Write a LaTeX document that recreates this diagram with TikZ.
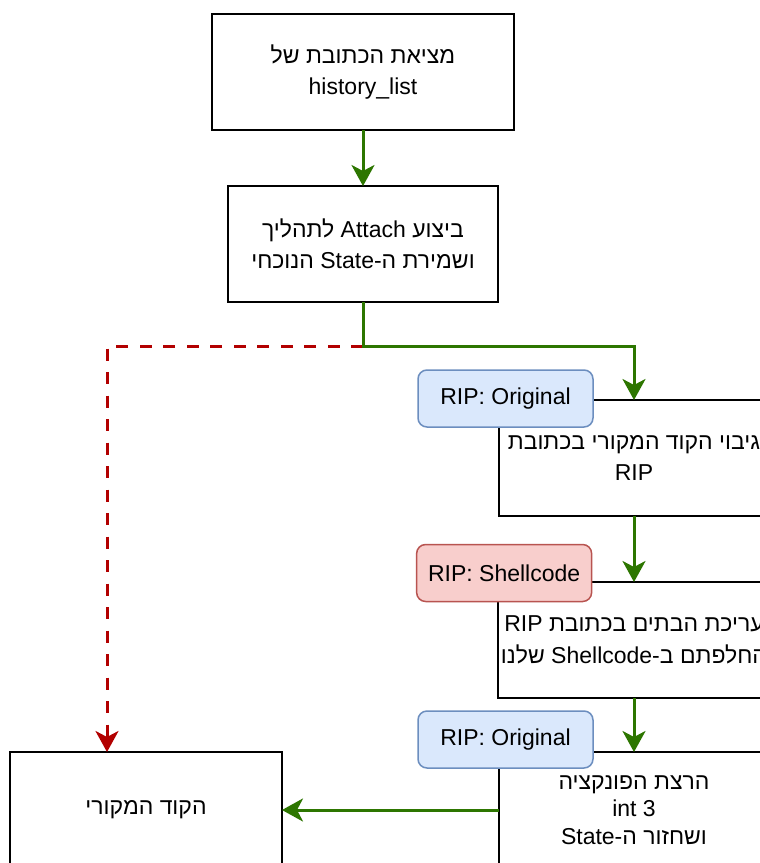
\documentclass[tikz,border=0pt]{standalone}
\usepackage{fontspec}
\setmainfont{Liberation Sans}
\newfontfamily\heb[Script=Hebrew]{Liberation Sans}
\TeXXeTstate=1
\usetikzlibrary{arrows.meta,positioning}
\definecolor{flowgreen}{HTML}{2D7600}
\definecolor{failred}{HTML}{B20000}
\definecolor{tagblue}{HTML}{DAE8FC}
\definecolor{tagblueline}{HTML}{6C8EBF}
\definecolor{tagred}{HTML}{F8CECC}
\definecolor{tagredline}{HTML}{B85450}

\begin{document}
\begin{tikzpicture}[x=1pt,y=-1pt,
    font=\fontsize{23}{31.5}\selectfont,
    box/.style={draw=black,line width=1.8pt,fill=white,minimum width=270pt,minimum height=116pt,align=center,outer sep=0pt},
    tag/.style={rounded corners=9pt,line width=1.5pt,minimum width=175pt,minimum height=57pt,inner sep=0pt},
    tag_ok/.style={tag,draw=tagblueline,fill=tagblue},
    tag_bad/.style={tag,draw=tagredline,fill=tagred},
    flow/.style={draw=flowgreen,line width=3pt,-{Stealth[length=21pt,width=23pt,inset=6pt]}},
    fail/.style={draw=failred,line width=3pt,dash pattern=on 12pt off 11.5pt,-{Stealth[length=21pt,width=23pt,inset=6pt]}}]
  \useasboundingbox (0,0) rectangle (760,863);
  \clip (0,0) rectangle (760,863);
  \fill[white] (0,0) rectangle (760,863);

  \node[box,minimum width=302pt] (find_addr) at (363,72)
    {\beginR{\heb מציאת הכתובת של}\endR\\history\_list};
  \node[box] (attach) [below=56pt of find_addr]
    {\beginR{\heb ביצוע} Attach {\heb לתהליך}\endR\\\beginR{\heb ושמירת ה-}State {\heb הנוכחי}\endR};
  \node[box] (backup) at (634,458)
    {\beginR{\heb גיבוי הקוד המקורי בכתובת}\endR\\RIP};
  \node[box] (patch) [below=66pt of backup]
    {\beginR{\heb עריכת הבתים בכתובת} RIP\endR\\\beginR{\heb החלפתם ב-}Shellcode {\heb שלנו}\endR};
  \node[box,font=\fontsize{23}{27.5}\selectfont] (run) [below=54pt of patch]
    {\beginR{\heb הרצת הפונקציה}\endR\\int 3\\\beginR{\heb ושחזור ה-}State\endR};
  \node[box,minimum width=272pt] (orig) [left=217pt of run]
    {\beginR{\heb הקוד המקורי}\endR};

  % RIP state tags
  \node[tag_ok] (tag_1) at (backup.north west) [xshift=6.5pt,yshift=1.5pt] {RIP: Original};
  \node[tag_bad] (tag_2) at (patch.north west) [xshift=6.5pt,yshift=9pt] {RIP: Shellcode};
  \node[tag_ok] (tag_3) at (run.north west) [xshift=6.5pt,yshift=12.5pt] {RIP: Original};

  \coordinate (split) at (363,346);
  \coordinate (bend) at (107,346);

  \draw[fail] (split) -- (bend) -- (bend |- orig.north);
  \draw[flow] (find_addr) -- (attach);
  \draw[flow] (attach) -- (split) -| (backup.north);
  \draw[flow] (backup) -- (patch);
  \draw[flow] (patch) -- (run);
  \draw[flow] (run.west) -- (orig.east);
\end{tikzpicture}
\end{document}
